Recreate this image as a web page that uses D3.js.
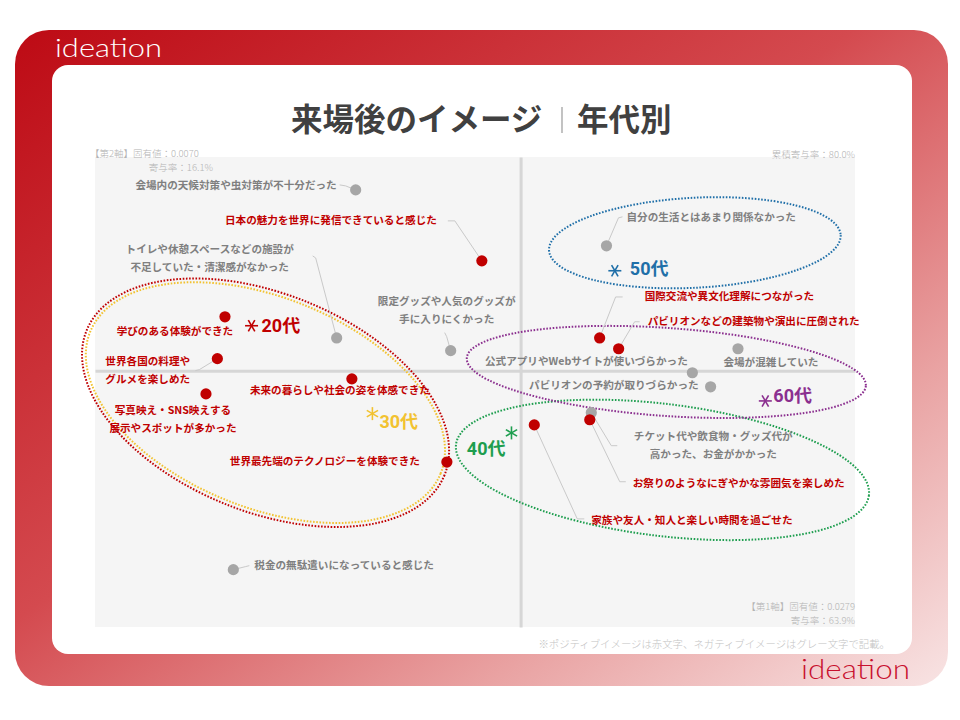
<!DOCTYPE html>
<html><head><meta charset="utf-8">
<script src="https://cdn.jsdelivr.net/npm/d3@7"></script>
<style>
html,body{margin:0;padding:0;background:#fff;}
svg{display:block;font-family:"Noto Sans CJK JP","Noto Sans",sans-serif;}
</style></head>
<body>
<svg id="chart" width="960" height="720"></svg>
<script>
// ---------------- DATA ----------------
const categories = [
  "会場内の天候対策や虫対策が不十分だった",
  "トイレや休憩スペースなどの施設が\n不足していた・清潔感がなかった",
  "限定グッズや人気のグッズが\n手に入りにくかった",
  "自分の生活とはあまり関係なかった",
  "公式アプリやWebサイトが使いづらかった",
  "会場が混雑していた",
  "パビリオンの予約が取りづらかった",
  "チケット代や飲食物・グッズ代が\n高かった、お金がかかった",
  "税金の無駄遣いになっていると感じた",
  "日本の魅力を世界に発信できていると感じた",
  "学びのある体験ができた",
  "世界各国の料理や\nグルメを楽しめた",
  "写真映え・SNS映えする\n展示やスポットが多かった",
  "未来の暮らしや社会の姿を体感できた",
  "世界最先端のテクノロジーを体験できた",
  "国際交流や異文化理解につながった",
  "パビリオンなどの建築物や演出に圧倒された",
  "お祭りのようなにぎやかな雰囲気を楽しめた",
  "家族や友人・知人と楽しい時間を過ごせた"
];
const dim1 = [-0.217,-0.242,-0.092,0.113,0.226,0.286,0.250,0.093,-0.378,-0.051,-0.389,-0.399,-0.414,-0.222,-0.097,0.104,0.129,0.091,0.018];
const dim2 = [0.385,0.070,0.043,0.266,-0.004,0.047,-0.034,-0.089,-0.423,0.234,0.115,0.026,-0.049,-0.017,-0.194,0.070,0.047,-0.104,-0.115];
const polarity = ["neg","neg","neg","neg","neg","neg","neg","neg","neg","pos","pos","pos","pos","pos","pos","pos","pos","pos","pos"];

const ageGroups = ["20代","30代","40代","50代","60代"];
const ageDim1 = [-0.354,-0.195,-0.012,0.124,0.322];
const ageDim2 = [0.096,-0.091,-0.132,0.213,-0.064];

const axisInfo = ["【第2軸】固有値：0.0070","寄与率：16.1%","累積寄与率：80.0%","【第1軸】固有値：0.0279","寄与率：63.9%"];
const titleMain = "来場後のイメージ";
const titleSub = "年代別";
const footNote = "※ポジティブイメージは赤文字、ネガティブイメージはグレー文字で記載。";
const brand = "ideation";

// ---------------- LAYOUT (label placement, styles) ----------------
// [anchor, dx, dy] relative to point; dy is centre of first line
const labelPos = [
  ["end",-19,-5],["middle",-127,-89],["middle",-4,-49],["start",20,-29],["middle",-106,-12],
  ["middle",33,13],["end",-12,-2],["middle",122,24],["start",21,-4],["end",-45,-41],
  ["middle",-50,14],["start",-112,3],["middle",-33,16],["middle",-12,11],["end",-27,-1],
  ["start",45,-42],["start",29,-28],["start",43,63],["start",57,95]
];
// leader polyline offsets from point: [elbow, tail] or null
const leaders = [
  [[-10,-4],[-16,-5]], [[-21,-80],[-24,-82]], [[-4,-14],[-6,-18]], [[12,-28],[16,-29]], null,
  null, null, [[20,33],[26,33]], [[12,-3],[16,-4]], [[-27,-40],[-34,-40]],
  null, [[-18,11],[-22,12]], null, null, null,
  [[16,-41],[23,-41]], [[16,-27],[21,-27]], [[30,62],[36,62]], [[43,94],[50,94]]
];
const ageColors = ["#c00000","#f2c230","#1e9e4f","#1f6fa8","#8b2f8f"];
const ageLabelPos = [["start",10,0],["start",7,8],["end",-6,16],["start",15,-2],["start",8,-5]];
const starRot = [0,90,90,0,0];
// ellipse: [cx offset, cy offset, rx, ry, rotation]
const ellipses = [[14,77,193,109,22],[-107,-11,189,105,22],[151,37,208,66,7],[80,-28,146,45,-3],[-99,-29,200,44,4]];

// ---------------- DRAW ----------------
const svg = d3.select("#chart");
const defs = svg.append("defs");
const grad = defs.append("linearGradient").attr("id","frameGrad")
  .attr("x1","0%").attr("y1","0%").attr("x2","100%").attr("y2","100%");
grad.append("stop").attr("offset","0%").attr("stop-color","#bd0a14");
grad.append("stop").attr("offset","45%").attr("stop-color","#d44a4f");
grad.append("stop").attr("offset","75%").attr("stop-color","#e9a2a2");
grad.append("stop").attr("offset","100%").attr("stop-color","#f8e4e4");

svg.append("rect").attr("x",15).attr("y",30).attr("width",933).attr("height",656)
  .attr("rx",34).attr("fill","url(#frameGrad)");
svg.append("rect").attr("x",52).attr("y",65).attr("width",860).attr("height",589)
  .attr("rx",16).attr("fill","#ffffff");

svg.append("text").attr("x",55).attr("y",57).attr("fill","#ffffff")
  .attr("font-family","Lato, 'Open Sans', sans-serif").attr("font-weight",300)
  .attr("font-size",25).attr("textLength",107).attr("lengthAdjust","spacingAndGlyphs").text(brand);
svg.append("text").attr("x",801).attr("y",679).attr("fill","#c8102e")
  .attr("font-family","Lato, 'Open Sans', sans-serif").attr("font-weight",300)
  .attr("font-size",27).attr("textLength",109).attr("lengthAdjust","spacingAndGlyphs").text(brand);

// title
svg.append("text").attr("x",291).attr("y",131).attr("font-size",31.5).attr("font-weight",700)
  .attr("fill","#404040").text(titleMain);
svg.append("line").attr("x1",562).attr("x2",562).attr("y1",107).attr("y2",133)
  .attr("stroke","#9a9a9a").attr("stroke-width",1.2);
svg.append("text").attr("x",577).attr("y",131).attr("font-size",31.5).attr("font-weight",700)
  .attr("fill","#404040").text(titleSub);

// plot area
const plot = {left:95,right:855,top:157,bottom:627};
const x = d3.scaleLinear().domain([-0.56,0.44]).range([plot.left,plot.right]);
const y = d3.scaleLinear().domain([-0.545,0.455]).range([plot.bottom,plot.top]);

svg.append("rect").attr("x",plot.left).attr("y",plot.top)
  .attr("width",plot.right-plot.left).attr("height",plot.bottom-plot.top).attr("fill","#f5f5f5");

const g = svg.append("g");
g.append("g").attr("transform",`translate(0,${y(0)})`)
  .call(d3.axisBottom(x).ticks(0).tickSizeOuter(0))
  .call(a=>a.select(".domain").attr("stroke","#d6d6d6").attr("stroke-width",3));
g.append("g").attr("transform",`translate(${x(0)},0)`)
  .call(d3.axisLeft(y).ticks(0).tickSizeOuter(0))
  .call(a=>a.select(".domain").attr("stroke","#d6d6d6").attr("stroke-width",3));

// axis info
const infoStyle = s => s.attr("font-size",9.5).attr("fill","#b4b4b4").attr("font-weight",300);
svg.append("text").attr("x",90).attr("y",157).text(axisInfo[0]).call(infoStyle);
svg.append("text").attr("x",213).attr("y",171).attr("text-anchor","end").text(axisInfo[1]).call(infoStyle);
svg.append("text").attr("x",855).attr("y",158).attr("text-anchor","end").text(axisInfo[2]).call(infoStyle);
svg.append("text").attr("x",855).attr("y",610).attr("text-anchor","end").text(axisInfo[3]).call(infoStyle);
svg.append("text").attr("x",855).attr("y",624).attr("text-anchor","end").text(axisInfo[4]).call(infoStyle);
svg.append("text").attr("x",890).attr("y",648).attr("text-anchor","end").attr("font-size",10.4)
  .attr("fill","#c4c4c4").attr("font-weight",300).text(footNote);

// ellipses
ageGroups.forEach((a,i)=>{
  const e = ellipses[i];
  const cx = x(ageDim1[i])+e[0], cy = y(ageDim2[i])+e[1];
  g.append("ellipse").attr("cx",cx).attr("cy",cy).attr("rx",e[2]).attr("ry",e[3])
    .attr("transform",`rotate(${e[4]},${cx},${cy})`)
    .attr("fill","none").attr("stroke",ageColors[i]).attr("stroke-width",2)
    .attr("stroke-dasharray","1.6 1.6");
});

// leaders
categories.forEach((c,i)=>{
  const L = leaders[i]; if(!L) return;
  const px = x(dim1[i]), py = y(dim2[i]);
  g.append("polyline").attr("points",[[px,py],[px+L[0][0],py+L[0][1]],[px+L[1][0],py+L[1][1]]].map(p=>p.join(",")).join(" "))
    .attr("fill","none").attr("stroke","#c9c9c9").attr("stroke-width",1);
});

// dots
g.selectAll("circle.pt").data(categories).join("circle").attr("class","pt")
  .attr("cx",(d,i)=>x(dim1[i])).attr("cy",(d,i)=>y(dim2[i])).attr("r",5.6)
  .attr("fill",(d,i)=>polarity[i]==="pos"?"#c00000":"#a6a6a6");

// labels
categories.forEach((c,i)=>{
  const lp = labelPos[i];
  const px = x(dim1[i])+lp[1], py = y(dim2[i])+lp[2];
  const t = g.append("text").attr("text-anchor",lp[0]).attr("font-size",10.6).attr("font-weight",700)
    .attr("fill",polarity[i]==="pos"?"#c00000":"#7f7f7f");
  c.split("\n").forEach((line,k)=>{
    t.append("tspan").attr("x",px).attr("y",py+k*18).attr("dy","0.36em").text(line);
  });
});

// age markers
ageGroups.forEach((a,i)=>{
  const px = x(ageDim1[i]), py = y(ageDim2[i]);
  const s = 6.5;
  [0,60,120].forEach(ang=>{
    const r = (ang+starRot[i])*Math.PI/180;
    g.append("line").attr("x1",px-s*Math.cos(r)).attr("y1",py-s*Math.sin(r))
      .attr("x2",px+s*Math.cos(r)).attr("y2",py+s*Math.sin(r))
      .attr("stroke",ageColors[i]).attr("stroke-width",1.6);
  });
  const lp = ageLabelPos[i];
  g.append("text").attr("x",px+lp[1]).attr("y",py+lp[2]).attr("dy","0.36em")
    .attr("text-anchor",lp[0]).attr("font-size",18).attr("font-weight",700)
    .attr("font-family","Roboto, 'Noto Sans CJK JP', sans-serif")
    .attr("fill",ageColors[i]).text(a);
});
</script>
</body></html>
